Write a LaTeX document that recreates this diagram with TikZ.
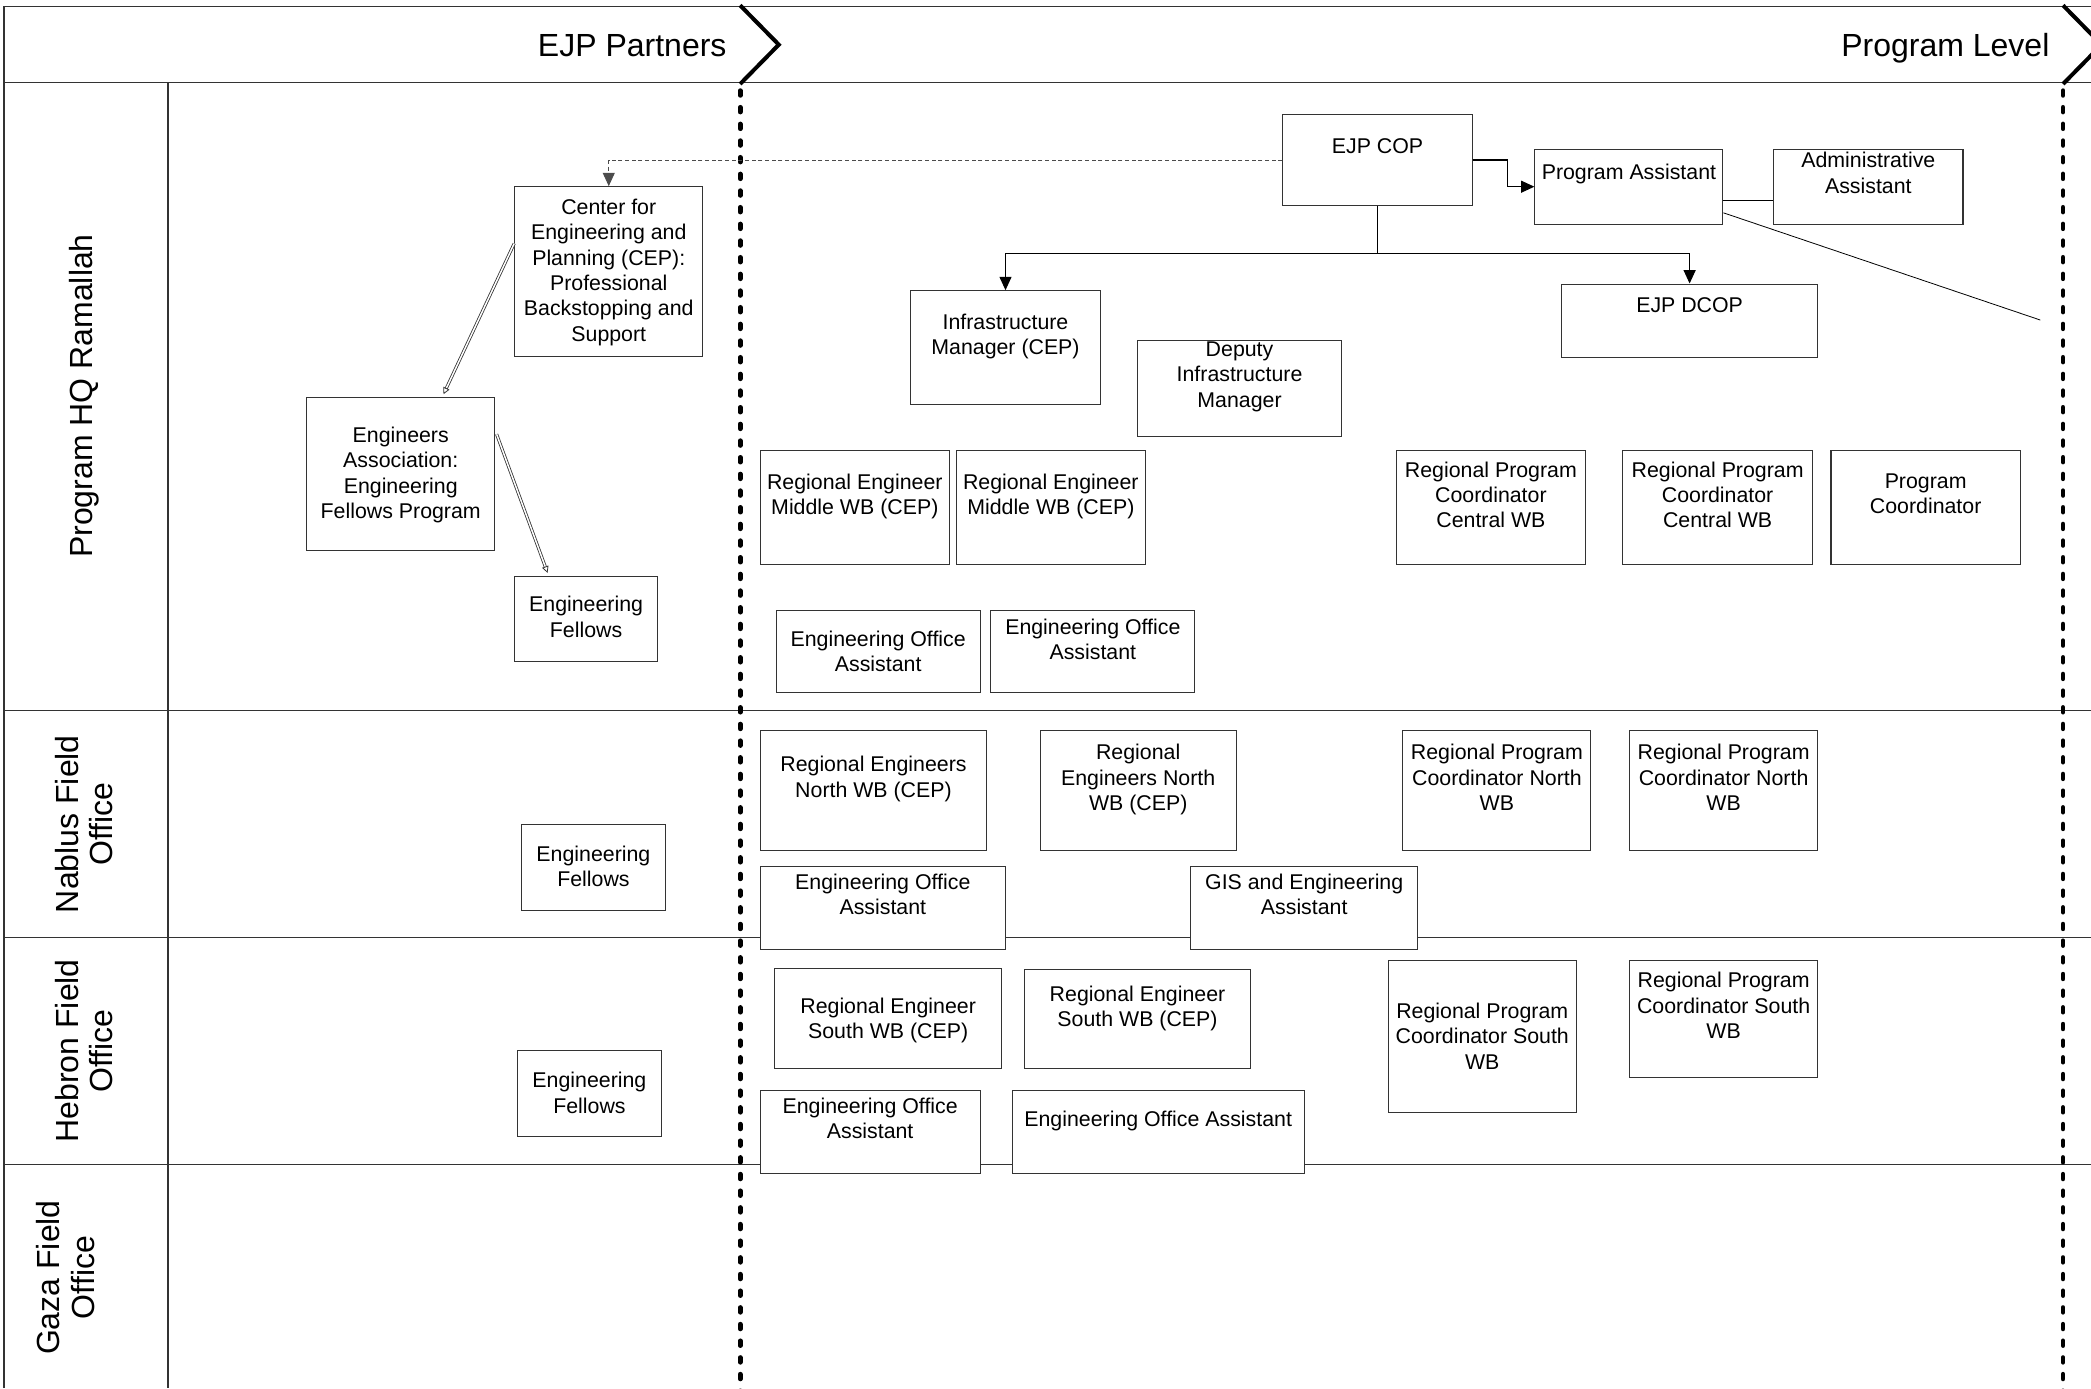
\documentclass[tikz,border=0pt]{standalone}
\usepackage{fontspec}
\setmainfont{Liberation Sans}
\usetikzlibrary{arrows.meta,fit,calc}
\newcommand\obox[7]{%
  \node[box, fit={(#2,#3) (#4,#5)}] (#1) {};
  \node[txt] (#1-t) at ({(#2+#4)/2}, {#6-6}) {#7};}
\begin{document}
\begin{tikzpicture}[x=1pt,y=-1pt,
  box/.style={draw=black!80, line width=0.8pt, fill=white, inner sep=0pt},
  txt/.style={align=center, inner sep=0pt, font=\fontsize{16}{19}\selectfont, anchor=north},
  hdr/.style={font=\fontsize{24}{27}\selectfont, inner sep=0pt, anchor=base east},
  lane/.style={font=\fontsize{24}{26}\selectfont, align=center, rotate=90, inner sep=0pt},
  frame/.style={draw=black!80, line width=1pt},
  chev/.style={line width=3pt},
  sepline/.style={line width=3.6pt, dash pattern=on 3.5pt off 9pt, line cap=round},
  conn/.style={draw=black, line width=0.8pt},
  tri/.style={-{Triangle[length=10pt,width=9pt]}},
  dconn/.style={draw=black!70, line width=0.7pt, dash pattern=on 3pt off 2pt},
  dbl/.style={draw=black!80, line width=0.6pt, double=white, double distance=1.1pt, -{Triangle[open,length=5pt,width=5pt]}}
]
\useasboundingbox (0,0) rectangle (1568,1041);
\clip (0,0) rectangle (1568,1041);
% frame
\draw[frame] (3,1041) -- (3,5) -- (1568,5);
\draw[frame] (3,62) -- (1568,62);
\draw[frame] (3,533) -- (1568,533);
\draw[frame] (3,703) -- (1568,703);
\draw[frame] (3,873) -- (1568,873);
\draw[frame] (126,62) -- (126,1041);
% header
\node[hdr] (hp) at (545,42) {EJP Partners};
\node[hdr] (hl) at (1537,42) {Program Level};
\draw[chev] (555,4) -- (584,33.5) -- (555,63);
\draw[chev] (1547,4) -- (1576,33.5) -- (1547,63);
\draw[sepline] (555,68) -- (555,1045);
\draw[sepline] (1547,68) -- (1547,1045);
% lanes
\node[lane] (lhq) at (63,297) {Program HQ Ramallah};
\node[lane] (lnab) at (63,618) {Nablus Field\\Office};
\node[lane] (lheb) at (63,788) {Hebron Field\\Office};
\node[lane] (lgaz) at (49,958) {Gaza Field\\Office};
% boxes
\obox{cep}{386}{140}{527}{267}{155}{Center for\\Engineering and\\Planning (CEP):\\Professional\\Backstopping and\\Support}
\obox{ea}{230}{298}{371}{413}{326}{Engineers\\Association:\\Engineering\\Fellows Program}
\obox{efhq}{386}{432}{493}{496}{453}{Engineering\\Fellows}
\obox{cop}{962}{86}{1104}{154}{110}{EJP COP}
\obox{pa}{1151}{112}{1292}{168}{129}{Program Assistant}
\obox{adm}{1330}{112}{1472}{168}{120}{Administrative\\Assistant}
\obox{dcop}{1171}{213}{1363}{268}{229}{EJP DCOP}
\obox{infra}{683}{218}{825}{303}{241}{Infrastructure\\Manager (CEP)}
\obox{dep}{853}{255}{1006}{327}{262}{Deputy\\Infrastructure\\Manager}
\obox{rem1}{570}{338}{712}{423}{361}{Regional Engineer\\Middle WB (CEP)}
\obox{rem2}{717}{338}{859}{423}{361}{Regional Engineer\\Middle WB (CEP)}
\obox{rpcc1}{1047}{338}{1189}{423}{352}{Regional Program\\Coordinator\\Central WB}
\obox{rpcc2}{1217}{338}{1359}{423}{352}{Regional Program\\Coordinator\\Central WB}
\obox{pc}{1373}{338}{1515}{423}{361}{Program\\Coordinator}
\obox{eoa1}{582}{458}{735}{519}{479}{Engineering Office\\Assistant}
\obox{eoa2}{743}{458}{896}{519}{470}{Engineering Office\\Assistant}
\obox{efn}{391}{618}{499}{683}{640}{Engineering\\Fellows}
\obox{ren1}{570}{548}{740}{638}{573}{Regional Engineers\\North WB (CEP)}
\obox{ren2}{780}{548}{927}{638}{564}{Regional\\Engineers North\\WB (CEP)}
\obox{rpcn1}{1052}{548}{1193}{638}{564}{Regional Program\\Coordinator North\\WB}
\obox{rpcn2}{1222}{548}{1363}{638}{564}{Regional Program\\Coordinator North\\WB}
\obox{eoan}{570}{650}{754}{712}{661}{Engineering Office\\Assistant}
\obox{gis}{893}{650}{1063}{712}{661}{GIS and Engineering\\Assistant}
\obox{efh}{388}{788}{496}{852}{810}{Engineering\\Fellows}
\obox{res1}{581}{726}{751}{801}{754}{Regional Engineer\\South WB (CEP)}
\obox{res2}{768}{727}{938}{801}{745}{Regional Engineer\\South WB (CEP)}
\obox{rpcs1}{1041}{720}{1182}{834}{758}{Regional Program\\Coordinator South\\WB}
\obox{rpcs2}{1222}{720}{1363}{808}{735}{Regional Program\\Coordinator South\\WB}
\obox{eoah1}{570}{818}{735}{880}{829}{Engineering Office\\Assistant}
\obox{eoah2}{759}{818}{978}{880}{839}{Engineering Office Assistant}
% connectors
\draw[dconn, tri] (cop.west) -| (cep.north);
\draw[conn, tri] (cop.east) -- ++(26,0) |- (pa.west);
\draw[conn, tri] (cop.south) -- ++(0,36) -| (infra.north);
\draw[conn, tri] (cop.south) -- ++(0,36) -| (dcop.north);
\draw[conn] ($(pa.north east)+(0,39)$) -- ($(adm.north west)+(0,39)$);
\coordinate (diagend) at (1530,240);
\draw[conn, line width=0.6pt] ($(pa.north east)+(0,48)$) -- (diagend);
\draw[dbl] ($(cep.north west)+(0,43)$) -- ($(ea.north west)+(103,-2)$);
\draw[dbl] ($(ea.north east)+(1,28)$) -- ($(efhq.north west)+(25,-2)$);
\end{tikzpicture}
\end{document}
